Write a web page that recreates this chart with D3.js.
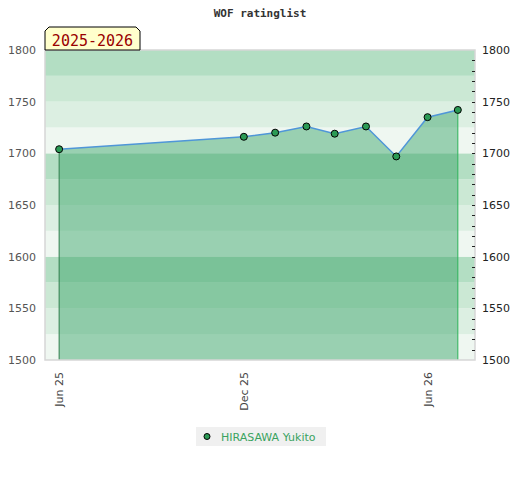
<!DOCTYPE html>
<html>
<head>
<meta charset="utf-8">
<script src="https://cdn.jsdelivr.net/npm/d3@7"></script>
<style>
  body { margin: 0; background: #fff; }
</style>
</head>
<body>
<div id="chart"></div>
<script>
// rating history
var dates = ["2025-06-01", "2025-12-01", "2026-01-01", "2026-02-01", "2026-03-01",
             "2026-04-01", "2026-05-01", "2026-06-01", "2026-07-01"];
var ratings = [1704, 1716, 1720, 1726, 1719, 1726, 1697, 1735, 1742];
var xTicks = ["2025-06-01", "2025-12-01", "2026-06-01"];
var xDomain = ["2025-05-18", "2026-07-18"];
var yTicks = [1500, 1550, 1600, 1650, 1700, 1750, 1800];
var playerName = "HIRASAWA Yukito";
var seasonLabel = "2025-2026";
var chartTitle = "WOF ratinglist";

var svgWidth = 520;
var svgHeight = 480;
var margin = {top: 50, right: 45, bottom: 120, left: 45};
var width = svgWidth - margin.left - margin.right;
var height = svgHeight - margin.top - margin.bottom;

var parse = d3.timeParse("%Y-%m-%d");
var data = dates.map(function(d, i) {
    return {date: parse(d), rating: ratings[i]};
});

var svg = d3.select("#chart")
    .append("svg")
    .attr("width", svgWidth)
    .attr("height", svgHeight);

var chart = svg.append("g")
    .attr("transform", "translate(" + margin.left + "," + margin.top + ")");

var x = d3.scaleTime()
    .domain(xDomain.map(parse))
    .range([0, width]);

var y = d3.scaleLinear()
    .domain([1500, 1800])
    .range([height, 0]);

// background bands, 25 points each, darker at top of every hundred
var bandColors = ["#b3dec3", "#cbe8d4", "#dcefe2", "#eff7f1"];
var bands = d3.range(1500, 1800, 25);
chart.selectAll("rect.band")
    .data(bands)
    .enter()
    .append("rect")
    .attr("class", "band")
    .attr("x", 0)
    .attr("width", width)
    .attr("y", d => y(d + 25))
    .attr("height", d => y(d) - y(d + 25))
    .attr("fill", d => bandColors[3 - ((d - 1500) / 25) % 4]);

// area under the line
var area = d3.area()
    .x(d => x(d.date))
    .y0(height)
    .y1(d => y(d.rating));

chart.append("path")
    .datum(data)
    .attr("d", area)
    .attr("fill", "rgba(57,163,104,0.47)");

var first = data[0], last = data[data.length - 1];
chart.append("line")
    .attr("x1", x(first.date)).attr("x2", x(first.date))
    .attr("y1", y(first.rating)).attr("y2", height)
    .attr("stroke", "#2f7f4d")
    .attr("stroke-width", 1);
chart.append("line")
    .attr("x1", x(last.date)).attr("x2", x(last.date))
    .attr("y1", y(last.rating)).attr("y2", height)
    .attr("stroke", "#2db35a")
    .attr("stroke-width", 1);

var line = d3.line()
    .x(d => x(d.date))
    .y(d => y(d.rating));

chart.append("path")
    .datum(data)
    .attr("d", line)
    .attr("fill", "none")
    .attr("stroke", "#4f96d8")
    .attr("stroke-width", 1.5);

// plot border
chart.append("rect")
    .attr("x", 0).attr("y", 0)
    .attr("width", width).attr("height", height)
    .attr("fill", "none")
    .attr("stroke", "#d6d6d6")
    .attr("stroke-width", 1.5);

chart.selectAll("circle.pt")
    .data(data)
    .enter()
    .append("circle")
    .attr("class", "pt")
    .attr("cx", d => x(d.date))
    .attr("cy", d => y(d.rating))
    .attr("r", 3.5)
    .attr("fill", "#2b9a55")
    .attr("stroke", "#000")
    .attr("stroke-width", 1);

// axes
var fmt = d3.format("d");
var leftAxis = d3.axisLeft(y).tickValues(yTicks).tickFormat(fmt).tickSize(0).tickPadding(9);
var gl = chart.append("g").call(leftAxis);
gl.select(".domain").remove();
gl.selectAll("text")
    .style("font-family", "DejaVu Sans")
    .style("font-size", "11px")
    .attr("fill", "#555");

var rightAxis = d3.axisRight(y).tickValues(yTicks).tickFormat(fmt).tickSize(0).tickPadding(7);
var gr = chart.append("g").attr("transform", "translate(" + width + ",0)").call(rightAxis);
gr.select(".domain").remove();
gr.selectAll("text")
    .style("font-family", "DejaVu Sans")
    .style("font-size", "11px")
    .attr("fill", "#222");

// minor ticks inside the right edge
chart.selectAll("line.minor")
    .data(d3.range(1510, 1800, 10))
    .enter()
    .append("line")
    .attr("class", "minor")
    .attr("x1", width - 3).attr("x2", width)
    .attr("y1", d => Math.round(y(d)) + 0.5)
    .attr("y2", d => Math.round(y(d)) + 0.5)
    .attr("stroke", "#222")
    .attr("stroke-width", 1);

var bottomAxis = d3.axisBottom(x)
    .tickValues(xTicks.map(parse))
    .tickFormat(d3.timeFormat("%b %y"))
    .tickSize(0);
var gb = chart.append("g").attr("transform", "translate(0," + height + ")").call(bottomAxis);
gb.select(".domain").remove();
gb.selectAll("text")
    .style("font-family", "DejaVu Sans")
    .style("font-size", "11px")
    .attr("fill", "#444")
    .attr("transform", "rotate(-90)")
    .attr("text-anchor", "end")
    .attr("x", -12)
    .attr("y", 0)
    .attr("dy", "0.35em");

// title
svg.append("text")
    .attr("x", svgWidth / 2)
    .attr("y", 17)
    .attr("text-anchor", "middle")
    .style("font-family", "DejaVu Sans Mono")
    .style("font-size", "11px")
    .style("font-weight", "bold")
    .attr("fill", "#333")
    .text(chartTitle);

// season tag
var tx = 45, ty = 27, tw = 95, th = 23, c = 4;
svg.append("path")
    .attr("d", "M" + tx + "," + (ty + th) + "V" + (ty + c) + "L" + (tx + c) + "," + ty +
        "H" + (tx + tw - c) + "L" + (tx + tw) + "," + (ty + c) + "V" + (ty + th) + "Z")
    .attr("fill", "#ffffcc")
    .attr("stroke", "#000")
    .attr("stroke-width", 1);
svg.append("text")
    .attr("x", tx + tw / 2)
    .attr("y", 45.5)
    .attr("text-anchor", "middle")
    .style("font-family", "DejaVu Sans Mono")
    .style("font-size", "15px")
    .attr("fill", "#990000")
    .text(seasonLabel);

// legend
var legend = svg.append("g").attr("transform", "translate(196,427)");
legend.append("rect")
    .attr("width", 130).attr("height", 19)
    .attr("fill", "#f0f0f0");
legend.append("circle")
    .attr("cx", 11).attr("cy", 9.5).attr("r", 3)
    .attr("fill", "#2b9a55")
    .attr("stroke", "#000");
legend.append("text")
    .attr("x", 25).attr("y", 13.5)
    .style("font-family", "DejaVu Sans")
    .style("font-size", "11px")
    .attr("fill", "#3aa35f")
    .text(playerName);
</script>
</body>
</html>
